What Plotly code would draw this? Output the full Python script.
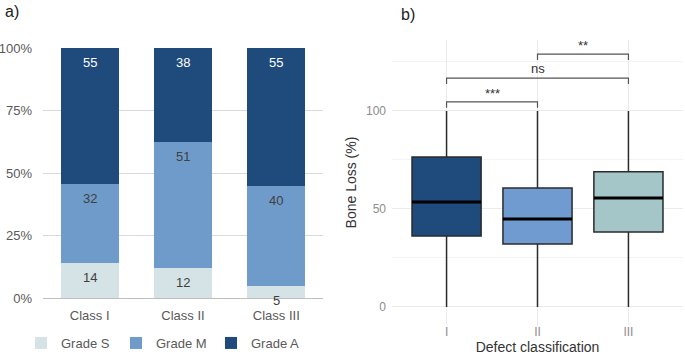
import plotly.graph_objects as go

# ---------- Panel a data ----------
classes = ["Class I", "Class II", "Class III"]
grade_s = [14, 12, 5]
grade_m = [32, 51, 40]
grade_a = [55, 38, 55]
grade_names = ["Grade S", "Grade M", "Grade A"]
grade_colors = ["#d5e3e6", "#6f9bcb", "#1f4a7c"]
label_colors = ["#404040", "#404040", "#ffffff"]
pct_ticks = [0, 25, 50, 75, 100]
pct_labels = ["0%", "25%", "50%", "75%", "100%"]

# ---------- Panel b data ----------
defect = ["I", "II", "III"]
bl_min = [0, 0, 0]
bl_q1 = [36.2, 32.1, 38.3]
bl_med = [53.6, 44.9, 55.6]
bl_q3 = [76.5, 60.7, 69.0]
bl_max = [100, 100, 100]
box_colors = ["#1f4a7c", "#6f9bd0", "#a5c6c8"]
# significance comparisons: (group i, group j, bracket height, label)
sig_i = [0, 0, 1]
sig_j = [1, 2, 2]
sig_y = [104.6, 116.8, 129.0]
sig_lab = ["***", "ns", "**"]

W, H = 685, 355
FONT = "Liberation Sans, Arial, Helvetica, sans-serif"

fig = go.Figure()

# stacked percent bars
series = [grade_s, grade_m, grade_a]
for name, vals, col in zip(grade_names, series, grade_colors):
    fig.add_trace(go.Bar(
        x=list(range(len(classes))), y=vals, name=name,
        marker=dict(color=col, line=dict(width=0)),
        xaxis="x", yaxis="y", hoverinfo="x+y+name",
    ))

# data labels near top of each segment
totals = [sum(v) for v in zip(*series)]
for k in range(len(classes)):
    cum = 0
    for s, vals in enumerate(series):
        cum += vals[k]
        top = cum / totals[k] * 100
        fig.add_annotation(
            x=k, y=top, xref="x", yref="y", text=str(vals[k]),
            showarrow=False, yanchor="top", yshift=-5,
            font=dict(size=13, color=label_colors[s], family=FONT),
        )

# boxes
for k in range(len(defect)):
    fig.add_trace(go.Box(
        x=[k], q1=[bl_q1[k]], median=[bl_med[k]], q3=[bl_q3[k]],
        lowerfence=[bl_min[k]], upperfence=[bl_max[k]],
        width=0.76, whiskerwidth=0,
        fillcolor=box_colors[k], line=dict(color="#2b2b2b", width=1.5),
        xaxis="x2", yaxis="y2", showlegend=False, boxpoints=False,
    ))
    fig.add_shape(type="line", xref="x2", yref="y2",
                  x0=k - 0.38, x1=k + 0.38, y0=bl_med[k], y1=bl_med[k],
                  line=dict(color="#000000", width=3))

# significance brackets
for a, b, yv, lab in zip(sig_i, sig_j, sig_y, sig_lab):
    fig.add_trace(go.Scatter(
        x=[a, a, b, b], y=[yv - 3, yv, yv, yv - 3], mode="lines",
        line=dict(color="#555555", width=1.2),
        xaxis="x2", yaxis="y2", showlegend=False, hoverinfo="skip",
    ))
    fig.add_annotation(
        x=(a + b) / 2, y=yv, xref="x2", yref="y2", text=lab,
        showarrow=False, yanchor="bottom", yshift=-1 if lab != "ns" else 0,
        font=dict(size=13, color="#333333", family=FONT),
    )

# panel labels
fig.add_annotation(x=3 / W, y=1 - 12 / H, xref="paper", yref="paper", text="a)",
                   showarrow=False, xanchor="left", yanchor="middle",
                   font=dict(size=16, color="#222222", family=FONT))
fig.add_annotation(x=399 / W, y=1 - 15 / H, xref="paper", yref="paper", text="b)",
                   showarrow=False, xanchor="left", yanchor="middle",
                   font=dict(size=16, color="#222222", family=FONT))

fig.update_layout(
    width=W, height=H,
    margin=dict(l=0, r=0, t=0, b=0, autoexpand=False),
    paper_bgcolor="white", plot_bgcolor="white",
    font=dict(family=FONT, size=13, color="#595959"),
    barmode="stack", barnorm="percent", bargap=0.378,
    boxmode="overlay",
    showlegend=True,
    legend=dict(orientation="h", x=21 / W, y=1 - 343 / H, xanchor="left",
                yanchor="middle", entrywidth=50, entrywidthmode="pixels",
                traceorder="normal",
                font=dict(size=13, color="#595959", family=FONT),
                bgcolor="rgba(0,0,0,0)"),
    xaxis=dict(domain=[43 / W, 323 / W], range=[-0.5, 2.5], automargin=False,
               tickvals=list(range(len(classes))), ticktext=classes,
               showgrid=False, zeroline=False, showline=True,
               linecolor="#bfbfbf", linewidth=1, ticks="",
               ticklabelstandoff=5,
               tickfont=dict(size=13, color="#595959"), anchor="y"),
    yaxis=dict(domain=[1 - 298 / H, 1 - 48 / H], range=[0, 100], automargin=False,
               tickvals=pct_ticks, ticktext=pct_labels,
               showgrid=True, gridcolor="#d9d9d9", zeroline=False,
               showline=False, ticks="", ticklabelstandoff=10,
               tickfont=dict(size=13, color="#595959"), anchor="x"),
    xaxis2=dict(domain=[392 / W, 683 / W], range=[-0.6, 2.6], automargin=False,
                tickvals=list(range(len(defect))), ticktext=defect,
                showgrid=True, gridcolor="#ebebeb", zeroline=False,
                showline=False, ticks="", ticklabelstandoff=-2,
                tickfont=dict(size=12, color="#8c8c8c"),
                title=dict(text="Defect classification", standoff=8,
                           font=dict(size=14, color="#333333")),
                anchor="y2"),
    yaxis2=dict(domain=[30 / H, 315 / H], range=[-9.2, 136.2], automargin=False,
                tick0=0, dtick=50, showgrid=True, gridcolor="#ebebeb",
                minor=dict(dtick=25, tick0=0, showgrid=True, gridcolor="#f4f4f4"),
                zeroline=False, showline=False, ticks="",
                ticklabelstandoff=5,
                tickfont=dict(size=12, color="#8c8c8c"),
                title=dict(text="Bone Loss (%)", standoff=6,
                           font=dict(size=14, color="#333333")),
                anchor="x2"),
)

fig.write_html("out.html")
